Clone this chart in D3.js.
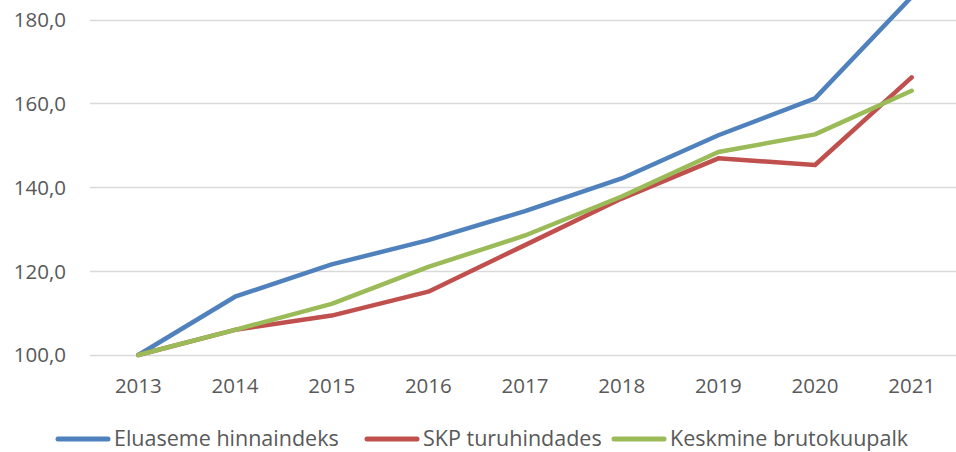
<!DOCTYPE html>
<html>
<head>
<meta charset="utf-8">
<script src="https://cdn.jsdelivr.net/npm/d3@7"></script>
<style>
  body { margin: 0; background: #fff; }
  svg text { font-family: "Open Sans", sans-serif; fill: #595959; }
</style>
</head>
<body>
<div id="chart"></div>
<script>
// data
const years = ['2013', '2014', '2015', '2016', '2017', '2018', '2019', '2020', '2021'];
const housing = [100, 113.9, 121.6, 127.4, 134.3, 142.1, 152.4, 161.2, 185.4];
const gdp = [100, 106.0, 109.4, 115.1, 126.2, 137.3, 146.9, 145.3, 166.2];
const wage = [100, 106.0, 112.2, 121.0, 128.5, 137.8, 148.4, 152.6, 163.0];
const yTicks = [100, 120, 140, 160, 180];

const seriesNames = ['Eluaseme hinnaindeks', 'SKP turuhindades', 'Keskmine brutokuupalk'];
const colors = ['#4F81BD', '#C0504D', '#9BBB59'];

const series = [housing, gdp, wage].map((values, i) => ({
  name: seriesNames[i],
  color: colors[i],
  values,
}));

const W = 956, H = 452;
const plot = { left: 90, right: 960, bottom: 355 };

const svg = d3.select('#chart')
  .append('svg')
  .attr('width', W)
  .attr('height', H);

const x = d3.scaleBand()
  .domain(years)
  .range([plot.left, plot.right]);

const y = d3.scaleLinear()
  .domain([100, 180])
  .range([plot.bottom, 19.5]);

// gridlines
svg.append('g')
  .selectAll('line')
  .data(yTicks)
  .join('line')
  .attr('x1', plot.left)
  .attr('x2', plot.right)
  .attr('y1', (d) => Math.round(y(d)) + 0.5)
  .attr('y2', (d) => Math.round(y(d)) + 0.5)
  .attr('stroke', '#d9d9d9')
  .attr('stroke-width', 1.5);

// y labels
svg.append('g')
  .selectAll('text')
  .data(yTicks)
  .join('text')
  .attr('x', 66)
  .attr('y', (d) => y(d))
  .attr('dy', '0.36em')
  .attr('text-anchor', 'end')
  .style('font-size', '20.5px')
  .text((d) => d3.format('.1f')(d).replace('.', ','));

// x labels
svg.append('g')
  .selectAll('text')
  .data(years)
  .join('text')
  .attr('x', (d) => x(d) + x.bandwidth() / 2)
  .attr('y', 385.5)
  .attr('dy', '0.36em')
  .attr('text-anchor', 'middle')
  .style('font-size', '20.5px')
  .text((d) => d);

// lines
const line = d3.line()
  .x((d, i) => x(years[i]) + x.bandwidth() / 2)
  .y((d) => y(d));

svg.append('g')
  .selectAll('path')
  .data(series)
  .join('path')
  .attr('d', (d) => line(d.values))
  .attr('fill', 'none')
  .attr('stroke', (d) => d.color)
  .attr('stroke-width', 4.5)
  .attr('stroke-linejoin', 'round')
  .attr('stroke-linecap', 'round');

// legend
const legendX = [56, 365, 612];
const lg = svg.append('g')
  .selectAll('g')
  .data(series)
  .join('g')
  .attr('transform', (d, i) => `translate(${legendX[i]},439)`);

lg.append('line')
  .attr('x1', 2)
  .attr('x2', 52)
  .attr('stroke', (d) => d.color)
  .attr('stroke-width', 5)
  .attr('stroke-linecap', 'round');

lg.append('text')
  .attr('x', 58)
  .attr('y', 6.5)
  .style('font-size', '21.5px')
  .text((d) => d.name);
</script>
</body>
</html>
